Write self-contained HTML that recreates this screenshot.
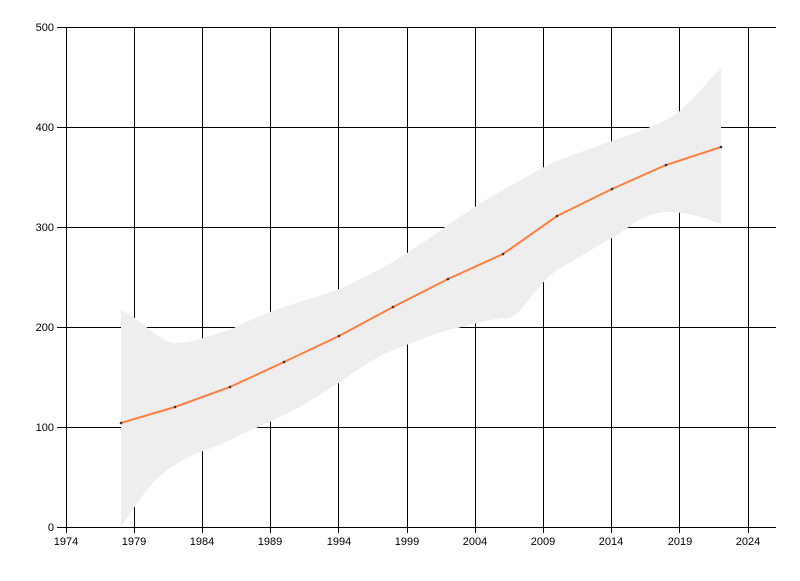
<!DOCTYPE html>
<html><head><style>body{margin:0;background:#fff}svg text{font-family:"Liberation Sans",sans-serif;font-size:11px;fill:#000}</style></head>
<body>
<svg width="800" height="576" xmlns="http://www.w3.org/2000/svg">
<g stroke="#000" stroke-width="1" shape-rendering="crispEdges">
<line x1="57" y1="27.5" x2="776" y2="27.5"/>
<line x1="57" y1="127.5" x2="776" y2="127.5"/>
<line x1="57" y1="227.5" x2="776" y2="227.5"/>
<line x1="57" y1="327.5" x2="776" y2="327.5"/>
<line x1="57" y1="427.5" x2="776" y2="427.5"/>
<line x1="66.5" y1="27" x2="66.5" y2="533"/>
<line x1="134.5" y1="27" x2="134.5" y2="533"/>
<line x1="202.5" y1="27" x2="202.5" y2="533"/>
<line x1="270.5" y1="27" x2="270.5" y2="533"/>
<line x1="338.5" y1="27" x2="338.5" y2="533"/>
<line x1="407.5" y1="27" x2="407.5" y2="533"/>
<line x1="475.5" y1="27" x2="475.5" y2="533"/>
<line x1="543.5" y1="27" x2="543.5" y2="533"/>
<line x1="611.5" y1="27" x2="611.5" y2="533"/>
<line x1="679.5" y1="27" x2="679.5" y2="533"/>
<line x1="748.5" y1="27" x2="748.5" y2="533"/>
</g>
<path d="M121,310 C140,318 160,343 175,343 C195,343 210,335 230,330 C250,320 265,313 284,307 C305,300 320,296 339,289 C360,280 375,272 393,262 C415,248 430,238 448,225 C470,210 485,200 503,190 C525,178 540,168 557,161 C580,152 595,147 612,141 C635,133 650,128 666,120 C690,108 705,82 721,69 L721,224 C705,218 690,212 666,212 C640,214 630,228 612,238 C590,250 575,260 557,270 C530,290 520,322 503,318 C485,320 460,328 448,330 C430,335 415,342 393,350 C370,360 355,372 339,383 C318,395 300,408 284,415 C265,425 245,432 230,440 C210,450 195,452 175,465 C150,480 140,500 121,527 Z" fill="#eeeeee"/>
<g stroke="#000" stroke-width="1" shape-rendering="crispEdges">
<line x1="57" y1="527.5" x2="776" y2="527.5"/>
</g>
<polyline points="121,423 175,407 230,387 284,362 339,336 393,307 448,279 503,254 557,216 612,189 666,165 721,147" fill="none" stroke="#ff7f3f" stroke-width="2"/>
<g fill="#333"><circle cx="121" cy="423" r="1.3"/><circle cx="175" cy="407" r="1.3"/><circle cx="230" cy="387" r="1.3"/><circle cx="284" cy="362" r="1.3"/><circle cx="339" cy="336" r="1.3"/><circle cx="393" cy="307" r="1.3"/><circle cx="448" cy="279" r="1.3"/><circle cx="503" cy="254" r="1.3"/><circle cx="557" cy="216" r="1.3"/><circle cx="612" cy="189" r="1.3"/><circle cx="666" cy="165" r="1.3"/><circle cx="721" cy="147" r="1.3"/></g>
<g text-anchor="end">
<text x="54" y="31">500</text><text x="54" y="131">400</text><text x="54" y="231">300</text><text x="54" y="331">200</text><text x="54" y="431">100</text><text x="54" y="531">0</text>
</g>
<g text-anchor="middle">
<text x="66" y="545">1974</text><text x="134" y="545">1979</text><text x="202" y="545">1984</text><text x="270" y="545">1989</text><text x="339" y="545">1994</text><text x="407" y="545">1999</text><text x="475" y="545">2004</text><text x="543" y="545">2009</text><text x="611" y="545">2014</text><text x="680" y="545">2019</text><text x="748" y="545">2024</text>
</g>
</svg>
</body></html>
